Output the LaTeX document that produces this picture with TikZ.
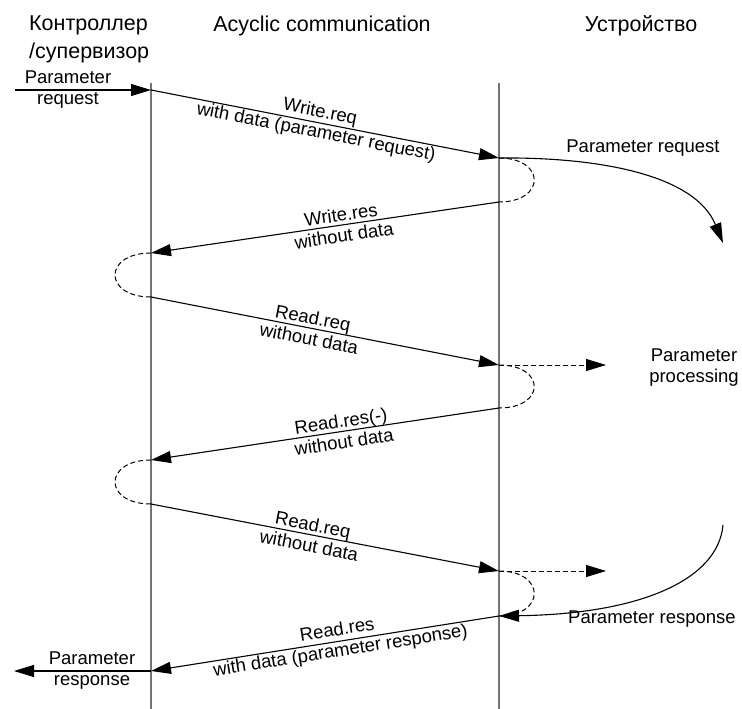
\documentclass[tikz,border=0pt]{standalone}
\usepackage{fontspec}
\setmainfont{Liberation Sans}
\usetikzlibrary{arrows.meta}
\begin{document}
\begin{tikzpicture}[x=1pt,y=-1pt,
  lifeline/.style={draw=black!55, line width=1.4pt},
  tip/.style={-{Triangle[length=20pt,width=12pt]}},
  msg/.style={line width=1.1pt, tip},
  loopline/.style={line width=1pt, dash pattern=on 5pt off 3pt},
  fwd/.style={loopline, tip},
  head/.style={font=\fontsize{21.5}{28}\selectfont, inner sep=0pt},
  lbl/.style={font=\fontsize{18.5}{21}\selectfont, inner sep=0pt, align=center},
  mlbl/.style={lbl, sloped},
]
\useasboundingbox (0,0) rectangle (742,709);

% column headings
\node[head, align=left, anchor=west] (hctrl) at (29,39) {Контроллер\\/супервизор};
\node[head, anchor=base] (hacyc) at (322,32) {Acyclic communication};
\node[head, anchor=base] (hdev) at (641,32) {Устройство};

% lifelines
\coordinate (Ltop) at (151,83);
\coordinate (Lbot) at (151,709);
\coordinate (Rtop) at (499,83);
\coordinate (Rbot) at (499,709);
\draw[lifeline] (Ltop) -- (Lbot);
\draw[lifeline] (Rtop) -- (Rbot);

% events on the controller lifeline
\coordinate (a1) at (151,90);
\coordinate (a2) at (151,253);
\coordinate (a3) at (151,297);
\coordinate (a4) at (151,460);
\coordinate (a5) at (151,504);
\coordinate (a6) at (151,671);
% events on the device lifeline
\coordinate (b1) at (499,158);
\coordinate (b2) at (499,202);
\coordinate (b3) at (499,365);
\coordinate (b4) at (499,408);
\coordinate (b5) at (499,571);
\coordinate (b6) at (499,616);
% free ends
\coordinate (inStart) at (15,90);
\coordinate (outEnd) at (14,671);
\coordinate (proc1) at (606,365);
\coordinate (proc2) at (606,571);
\coordinate (reqEnd) at (723,243);
\coordinate (resStart) at (723,525);

% request entering the controller
\draw[msg] (inStart) -- (a1);
\node[lbl] (inlbl) at (68,90) {Parameter\\request};

% acyclic telegrams
\draw[msg] (a1) -- node[mlbl, pos=0.48] (m1) {Write.req\\with data (parameter request)} (b1);
\draw[msg] (b2) -- node[mlbl, pos=0.45] (m2) {Write.res\\without data} (a2);
\draw[msg] (a3) -- node[mlbl, pos=0.46] (m3) {Read.req\\without data} (b3);
\draw[msg] (b4) -- node[mlbl, pos=0.45] (m4) {Read.res(-)\\without data} (a4);
\draw[msg] (a5) -- node[mlbl, pos=0.46] (m5) {Read.req\\without data} (b5);
\draw[msg] (b6) -- node[mlbl, pos=0.46] (m6) {Read.res\\with data (parameter response)} (a6);

% response leaving the controller
\draw[msg] (a6) -- (outEnd);
\node[lbl] (outlbl) at (92,671) {Parameter\\response};

% waiting loops
\draw[loopline] (b1) .. controls (546,158) and (546,202) .. (b2);
\draw[loopline] (a2) .. controls (103,253) and (103,297) .. (a3);
\draw[loopline] (b3) .. controls (546,365) and (546,408) .. (b4);
\draw[loopline] (a4) .. controls (103,460) and (103,504) .. (a5);
\draw[loopline] (b5) .. controls (546,571) and (546,616) .. (b6);

% processing in the device
\draw[fwd] (b3) -- (proc1);
\draw[fwd] (b5) -- (proc2);
\node[lbl] (proclbl) at (694,368) {Parameter\\processing};

\draw[msg] (b1) .. controls (600,157) and (695,175) .. (reqEnd);
\node[lbl] (reqlbl) at (643,148) {Parameter request};
\draw[msg] (resStart) .. controls (718,580) and (640,614) .. (b6);
\node[lbl] (reslbl) at (652,619) {Parameter response};
\end{tikzpicture}
\end{document}
